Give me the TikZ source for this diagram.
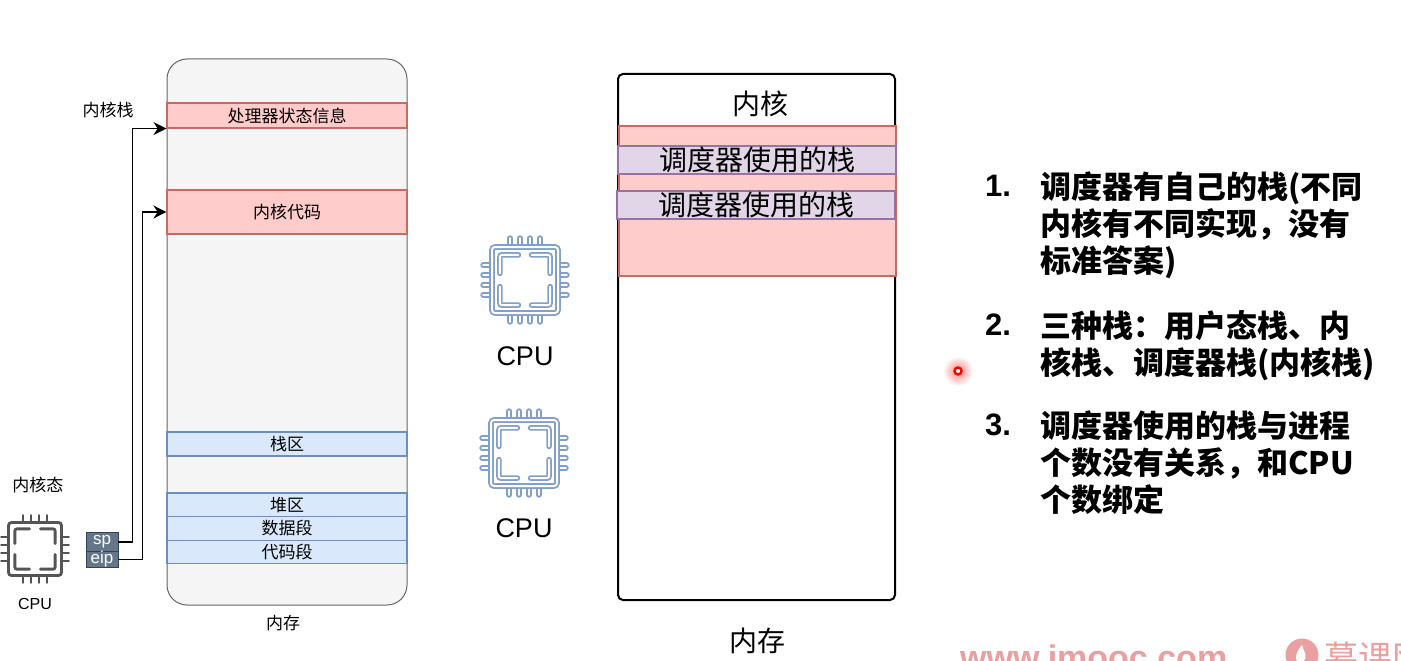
\documentclass[tikz,border=0pt]{standalone}
\usepackage{fontspec}
\setmainfont{Noto Sans CJK SC}
\newfontfamily\latinfont{Liberation Sans}
\usetikzlibrary{arrows.meta,positioning,calc}
\definecolor{memfill}{RGB}{245,245,245}
\definecolor{memline}{RGB}{102,102,102}
\definecolor{redfill}{RGB}{255,204,204}
\definecolor{redline}{RGB}{200,105,100}
\definecolor{bluefill}{RGB}{218,232,252}
\definecolor{blueline}{RGB}{108,142,191}
\definecolor{purpfill}{RGB}{225,213,231}
\definecolor{purpline}{RGB}{150,115,166}
\definecolor{regfill}{RGB}{100,118,135}
\definecolor{regline}{RGB}{49,67,84}
\definecolor{chipgray}{RGB}{85,85,85}
\definecolor{markcol}{RGB}{232,160,160}
\newcommand{\fsz}[1]{\fontsize{#1}{#1}\selectfont}
\tikzset{
  mem/.style={draw=memline, fill=memfill, rounded corners=20pt, line width=1pt,
              minimum width=240pt, minimum height=546pt, inner sep=0pt},
  kbox/.style={draw=black, fill=white, rounded corners=5pt, line width=2pt,
              minimum width=277pt, minimum height=526pt, inner sep=0pt},
  redbar/.style={draw=redline, fill=redfill, line width=1.1pt, minimum width=240pt, inner sep=0pt, font=\fsz{17}},
  blubar/.style={draw=blueline, fill=bluefill, line width=1.1pt, minimum width=240pt, inner sep=0pt, font=\fsz{17}},
  redbig/.style={draw=redline, fill=redfill, line width=1.8pt, minimum width=277pt, minimum height=150pt, inner sep=0pt},
  purbar/.style={draw=purpline, fill=purpfill, line width=1.8pt, minimum width=278pt, minimum height=28pt, inner sep=0pt, font=\fsz{28}},
  reg/.style={draw=regline, fill=regfill, text=white, line width=.8pt, minimum width=32pt, inner sep=0pt, font=\latinfont\fsz{17}},
  flowarr/.style={-{Stealth[length=13pt,width=13pt]}, black, line width=1.4pt},
  lab/.style={inner sep=0pt, font=\fsz{17}},
  biglab/.style={inner sep=0pt, font=\fsz{28}},
  cpulab/.style={inner sep=0pt, font=\latinfont\fsz{16}},
  cpubig/.style={inner sep=0pt, font=\latinfont\fsz{27}},
  num/.style={inner sep=0pt, anchor=west, font=\latinfont\bfseries\fsz{31}},
  item/.style={inner sep=0pt, anchor=north west, align=left, font=\bfseries\fontsize{31}{37}\selectfont},
  wmark/.style={inner sep=0pt, anchor=west, text=markcol, font=\fsz{34}},
  pics/chip/.style={code={
    \foreach \s in {-1,1}{
      \foreach \k in {-.45,-.15,.15,.45}{
        \draw[#1] (\s*1,\k) -- (\s*1.27,\k);
        \draw[#1] (\k,\s*1) -- (\k,\s*1.27);}
      \draw[#1, rounded corners=2pt] (\s*.76,-.2) -- (\s*.76,-.76) -- (\s*.2,-.76);
      \draw[#1, rounded corners=2pt] (\s*.76,.2) -- (\s*.76,.76) -- (\s*.2,.76);}
    \draw[#1, rounded corners=3pt] (-1,-1) rectangle (1,1);
  }},
  blackchip/.style={line width=2.8pt, draw=chipgray, line cap=round},
  bluechip/.style={draw=blueline!85, double=white, double distance=2pt, line width=1.8pt, line cap=round},
}
\begin{document}
\begin{tikzpicture}[x=1pt, y=-1pt]
    \useasboundingbox (0,0) rectangle (1401,661);
    \clip (0,0) rectangle (1401,661);
    \fill[white] (0,0) rectangle (1401,661);
    % left memory
    \node[mem] (mem) at (287,332) {};
    \node[redbar, minimum height=25pt] (pstate) at (287,115.5) {处理器状态信息};
    \node[redbar, minimum height=44pt] (kcode) at (287,212) {内核代码};
    \node[blubar, minimum height=24pt] (stackseg) at (287,444) {栈区};
    \node[blubar, minimum height=24pt] (heapseg) at (287,505) {堆区};
    \node[blubar, minimum height=23.5pt] (dataseg) at (287,528.5) {数据段};
    \node[blubar, minimum height=23.5pt] (codeseg) at (287,552) {代码段};
    \node[lab] (memlab) at (283,623) {内存};
    \node[lab] (kstack) at (108,110) {内核栈};
    \node[lab] (kstate) at (38,485) {内核态};
    % cpu with registers
    \pic[scale=26.5] at (35,549) {chip=blackchip};
    \node[cpulab] (cpu0) at (35,603.5) {CPU};
    \node[reg, minimum height=20pt] (sp) at (102,542) {sp};
    \node[reg, minimum height=15pt] (eip) at (102,559.5) {eip};
    \draw[flowarr] (sp.east) -- ++(14,0) |- (pstate.south west);
    \draw[flowarr] (eip.east) -- ++(24,0) |- (kcode.west);
    % two cpus
    \pic[scale=33] at (525,280) {chip=bluechip};
    \node[cpubig] (cpu1) at (525,356) {CPU};
    \pic[scale=33] at (524,453) {chip=bluechip};
    \node[cpubig] (cpu2) at (524,528) {CPU};
    % right memory
    \node[kbox] (kbox) at (756.5,337) {};
    \node[biglab] (ktitle) at (760,104) {内核};
    \node[redbig] (kred) at (757.5,201) {};
    \node[purbar] (sched1) at (757,160) {调度器使用的栈};
    \node[purbar] (sched2) at (756,205) {调度器使用的栈};
    \node[biglab] (kmem) at (757,641) {内存};
    % list
    \node[num] (n1) at (985,186) {1.};
    \node[item] (t1) at (1040,172) {调度器有自己的栈(不同\\内核有不同实现，没有\\标准答案)};
    \node[num] (n2) at (985,325) {2.};
    \node[item] (t2) at (1040,310) {三种栈：用户态栈、内\\核栈、调度器栈(内核栈)};
    \node[num] (n3) at (985,425) {3.};
    \node[item] (t3) at (1040,411) {调度器使用的栈与进程\\个数没有关系，和CPU\\个数绑定};
    % pointer
    \shade[inner color=red!50, outer color=white] (958,371) circle (15);
    \draw[red, fill=white, line width=2.4pt] (958,371) circle (3.5);
    % watermark
    \node[wmark, font=\latinfont\bfseries\fsz{34}] (site) at (960,657) {www.imooc.com};
    \fill[markcol] (1302,655) circle (16.5);
    \fill[white] (1302,663) .. controls (1294,663) and (1294,654) .. (1302,645) .. controls (1303,652) and (1310,655) .. (1302,663);
    \node[wmark] (brand) at (1324,658) {慕课网};
  \end{tikzpicture}
\end{document}
